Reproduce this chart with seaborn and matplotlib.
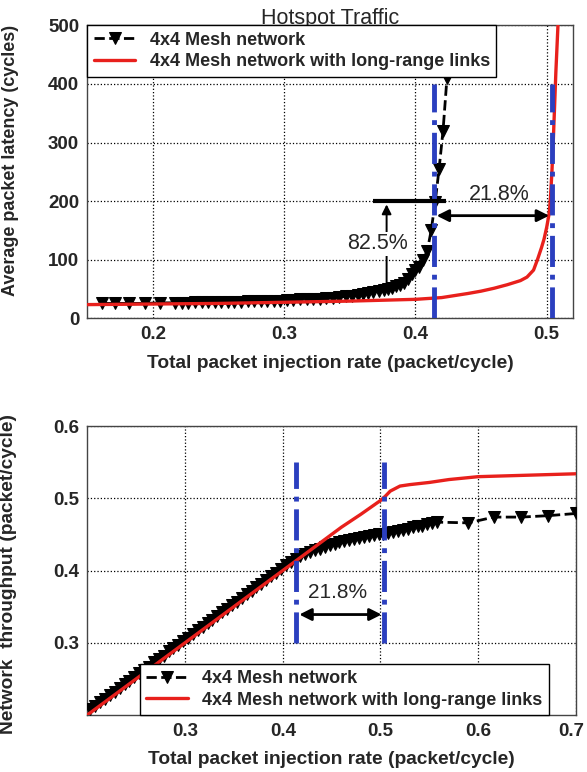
import matplotlib
matplotlib.use("Agg")
import matplotlib.pyplot as plt
import matplotlib.transforms as mtransforms
import seaborn as sns

sns.set_theme(style="white")
plt.rcParams['font.family'] = ['Liberation Sans', 'DejaVu Sans']

# ---- Latency vs. injection rate (hotspot traffic) ----
mesh_lat_rate = [0.161, 0.171, 0.182, 0.194, 0.205, 0.217, 0.222, 0.227, 0.232, 0.237,
                 0.242, 0.247, 0.252, 0.257, 0.262, 0.267, 0.272, 0.277, 0.282, 0.287,
                 0.292, 0.297, 0.302, 0.307, 0.312, 0.317, 0.322, 0.327, 0.332, 0.337,
                 0.342, 0.347, 0.352, 0.356, 0.360, 0.364, 0.368, 0.372, 0.376, 0.379,
                 0.382, 0.385, 0.388, 0.391, 0.394, 0.397, 0.400, 0.403, 0.406, 0.409,
                 0.412, 0.415, 0.418, 0.421, 0.424, 0.427]
mesh_lat = [25, 25, 25, 25, 26, 26, 26, 26, 27, 27,
            27, 27, 28, 28, 28, 28, 29, 29, 29, 30,
            30, 30, 31, 31, 32, 32, 33, 33, 34, 35,
            36, 37, 38, 40, 41, 43, 45, 46, 48, 50,
            52, 54, 57, 60, 66, 75, 82, 88, 100, 115,
            150, 198, 255, 320, 410, 520]

lr_lat_rate = [0.15, 0.20, 0.25, 0.30, 0.35, 0.40, 0.42, 0.44, 0.45, 0.46,
               0.47, 0.48, 0.485, 0.49, 0.493, 0.496, 0.498, 0.500, 0.502, 0.503,
               0.504, 0.505, 0.506, 0.507, 0.508, 0.509]
lr_lat = [23, 24, 25, 27, 29, 32, 35, 42, 46, 51,
          57, 64, 70, 82, 100, 120, 135, 155, 180, 210,
          250, 300, 360, 420, 470, 520]

# ---- Throughput vs. injection rate ----
mesh_thr_rate = [0.203, 0.208, 0.213, 0.218, 0.223, 0.228, 0.233, 0.238, 0.243, 0.248,
                 0.253, 0.258, 0.263, 0.268, 0.273, 0.278, 0.283, 0.288, 0.293, 0.298,
                 0.303, 0.308, 0.313, 0.318, 0.323, 0.328, 0.333, 0.338, 0.343, 0.348,
                 0.353, 0.358, 0.363, 0.368, 0.373, 0.378, 0.383, 0.388, 0.393, 0.398,
                 0.403, 0.408, 0.413, 0.418, 0.423, 0.428, 0.433, 0.438, 0.443, 0.448,
                 0.453, 0.458, 0.463, 0.468, 0.473, 0.478, 0.483, 0.488, 0.493, 0.498,
                 0.503, 0.508, 0.513, 0.518, 0.523, 0.528, 0.533, 0.538, 0.543, 0.548,
                 0.553, 0.558, 0.590, 0.616, 0.644, 0.672, 0.700]
mesh_thr = [0.208, 0.212, 0.218, 0.222, 0.228, 0.232, 0.237, 0.243, 0.247, 0.252,
            0.258, 0.262, 0.267, 0.273, 0.277, 0.282, 0.288, 0.292, 0.297, 0.303,
            0.307, 0.312, 0.317, 0.322, 0.327, 0.332, 0.337, 0.342, 0.347, 0.352,
            0.357, 0.362, 0.367, 0.372, 0.377, 0.382, 0.387, 0.392, 0.397, 0.402,
            0.407, 0.412, 0.416, 0.420, 0.423, 0.425, 0.428, 0.430, 0.433, 0.435,
            0.437, 0.439, 0.441, 0.442, 0.444, 0.445, 0.447, 0.448, 0.449, 0.450,
            0.451, 0.452, 0.454, 0.455, 0.456, 0.458, 0.460, 0.461, 0.462, 0.464,
            0.466, 0.467, 0.466, 0.474, 0.474, 0.476, 0.479]

lr_thr_rate = [0.200, 0.250, 0.300, 0.350, 0.400, 0.420, 0.440, 0.460, 0.480, 0.500,
               0.505, 0.510, 0.520, 0.530, 0.550, 0.570, 0.600, 0.650, 0.700]
lr_thr = [0.200, 0.250, 0.300, 0.350, 0.400, 0.420, 0.440, 0.460, 0.478, 0.497,
          0.503, 0.510, 0.517, 0.519, 0.522, 0.526, 0.530, 0.532, 0.534]

mesh_label = "4x4 Mesh network"
lr_label = "4x4 Mesh network with long-range links"

# Saturation points of the two networks
sat_mesh = 0.414
sat_lr = 0.504

BLUE = "#2b3fbf"
RED = "#e8201c"
TICK_FS = 13.5
LABEL_FS = 13.8
LEGEND_FS = 13

fig = plt.figure(figsize=(5.87, 7.72), dpi=100)
ax1 = fig.add_axes([0.149, 0.588, 0.827, 0.379])
ax2 = fig.add_axes([0.149, 0.074, 0.832, 0.374])


def draw_series(ax, mx, my, lx, ly):
    sns.lineplot(x=mx, y=my, ax=ax, color="black", linestyle="--", lw=2,
                 marker="v", markersize=8, markerfacecolor="black",
                 markeredgecolor="black", label=mesh_label, zorder=3)
    sns.lineplot(x=lx, y=ly, ax=ax, color=RED, lw=2.4, label=lr_label, zorder=4)


def style_axes(ax):
    ax.grid(True, linestyle=":", color="black", lw=0.9)
    for s in ax.spines.values():
        s.set_color("#444444")
        s.set_linewidth(1.0)
    ax.tick_params(axis="both", length=0, pad=6, labelsize=TICK_FS)
    for lab in ax.get_xticklabels() + ax.get_yticklabels():
        lab.set_fontweight("bold")
    ax.set_xlabel("Total packet injection rate (packet/cycle)", fontsize=LABEL_FS,
                  fontweight="bold", labelpad=8)


def make_legend(ax, **kw):
    leg = ax.legend(borderaxespad=0, fancybox=False, edgecolor="black", framealpha=1,
                    prop=dict(weight="bold", size=LEGEND_FS), handlelength=2.3,
                    borderpad=0.35, labelspacing=0.25, **kw)
    leg.get_frame().set_linewidth(1.0)
    leg.set_zorder(10)
    return leg


# ---------------- top: latency ----------------
draw_series(ax1, mesh_lat_rate, mesh_lat, lr_lat_rate, lr_lat)
ax1.set_xlim(0.15, 0.52)
ax1.set_ylim(0, 500)
ax1.set_xticks([0.2, 0.3, 0.4, 0.5])
ax1.set_yticks([0, 100, 200, 300, 400, 500])
ax1.set_xticklabels(["0.2", "0.3", "0.4", "0.5"])
ax1.set_yticklabels(["0", "100", "200", "300", "400", "500"])
ax1.vlines([sat_mesh, sat_lr], 0, 400, colors=BLUE, linestyles="-.", lw=3.5, zorder=5)
style_axes(ax1)
ax1.set_ylabel("Average packet latency (cycles)", fontsize=13.0, fontweight="bold")
ax1.yaxis.set_label_coords(-0.141, 0.54)
ax1.set_title("Hotspot Traffic", fontsize=15.5, pad=1)

# latency reduction marker
ax1.hlines(200, 0.368, 0.423, colors="black", lw=3, zorder=6)
ax1.annotate("", xy=(0.378, 199), xytext=(0.378, 50),
             arrowprops=dict(arrowstyle="-|>", color="black", lw=1.4,
                             mutation_scale=14), zorder=6)
ax1.text(0.371, 127, "82.5%", ha="center", va="center", fontsize=15.5, zorder=7,
         bbox=dict(facecolor="white", edgecolor="none", pad=1))
ax1.annotate("", xy=(sat_mesh, 175), xytext=(sat_lr, 175),
             arrowprops=dict(arrowstyle="<|-|>", color="black", lw=2,
                             mutation_scale=18), zorder=6)
ax1.text(0.4635, 212, "21.8%", ha="center", va="center", fontsize=15.5, zorder=7)

make_legend(ax1, loc="upper left")

# ---------------- bottom: throughput ----------------
draw_series(ax2, mesh_thr_rate, mesh_thr, lr_thr_rate, lr_thr)
ax2.set_xlim(0.2, 0.7)
ax2.set_ylim(0.2, 0.6)
ax2.set_xticks([0.3, 0.4, 0.5, 0.6, 0.7])
ax2.set_yticks([0.3, 0.4, 0.5, 0.6])
ax2.set_xticklabels(["0.3", "0.4", "0.5", "0.6", "0.7"])
ax2.set_yticklabels(["0.3", "0.4", "0.5", "0.6"])
ax2.vlines([sat_mesh, sat_lr], 0.3, 0.55, colors=BLUE, linestyles="-.", lw=3.5, zorder=5)
style_axes(ax2)
# keep the last tick label inside the figure edge
last = ax2.get_xticklabels()[-1]
last.set_horizontalalignment("right")
last.set_transform(last.get_transform() +
                   mtransforms.ScaledTranslation(0.08, 0, fig.dpi_scale_trans))
ax2.set_ylabel("Network  throughput (packet/cycle)", fontsize=LABEL_FS, fontweight="bold")
ax2.yaxis.set_label_coords(-0.144, 0.488)

ax2.annotate("", xy=(sat_mesh, 0.339), xytext=(sat_lr, 0.339),
             arrowprops=dict(arrowstyle="<|-|>", color="black", lw=2,
                             mutation_scale=18), zorder=6)
ax2.text(0.456, 0.369, "21.8%", ha="center", va="center", fontsize=15, zorder=7)

make_legend(ax2, loc="lower left", bbox_to_anchor=(0.107, 0.0))

fig.savefig("out.png", dpi=100, facecolor="white")
